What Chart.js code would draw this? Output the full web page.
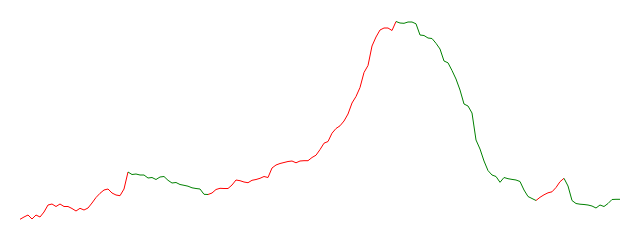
<!DOCTYPE html>
<html>
<head>
<meta charset="utf-8">
<script src="https://cdn.jsdelivr.net/npm/chart.js@4/dist/chart.umd.min.js"></script>
<style>
  html, body { margin: 0; padding: 0; background: #fff; }
  #wrap { width: 640px; height: 240px; }
</style>
</head>
<body>
<div id="wrap"><canvas id="kurs"></canvas></div>
<script>
// Verdier lest av bildet, ett punkt per steg
const verdier = [
  0.7, 3, 5, 1, 5, 3, 8, 15, 16, 13.5,
  16, 13.5, 13.5, 11.5, 9, 11.7, 10, 12, 17, 22.5,
  26.7, 30, 31, 27, 25, 24.3, 31, 48, 45.5, 46,
  45, 45, 42, 42.5, 40.5, 43, 43.5, 39.7, 37, 37.5,
  35.5, 34.7, 33.8, 32.2, 31.5, 31, 25.7, 25.5, 27, 30.5,
  31.7, 31.5, 31.5, 35, 40, 39.3, 38, 37.3, 39.7, 40.5,
  41.7, 43.5, 42.5, 52, 55, 56.5, 57.5, 58.5, 59, 57.2,
  59, 59.3, 59.3, 62.5, 64.8, 70.4, 76.8, 78.5, 86.8, 91.5,
  94.2, 99, 106, 117, 123.5, 132.5, 147.5, 154.5, 174, 183,
  190, 192, 192, 189.5, 198.5, 197, 196.7, 198, 198, 196.2,
  185, 184.5, 182, 181.5, 176.7, 171, 159, 157.2, 149.5, 141,
  130, 116, 114, 107, 80, 71, 59, 49.4, 45, 43.5,
  37.7, 42.5, 41.3, 40.6, 40, 38.5, 30, 23.5, 21.5, 19.5,
  22.7, 25.2, 27.2, 28.2, 32.5, 38.3, 41.7, 34, 19.5, 16.5,
  15.8, 15.5, 15, 14, 12, 15, 13.5, 16.5, 20.5, 20.7,
  20.7
];

// Indekser der trenden snur (første stykke går opp)
const vendepunkter = [0, 27, 47, 94, 129, 136, 150];

const etiketter = verdier.map((v, i) => i + 1);

function erOppgang(indeks) {
  for (let k = 0; k < vendepunkter.length - 1; k++) {
    if (indeks >= vendepunkter[k] && indeks < vendepunkter[k + 1]) {
      return k % 2 === 0;
    }
  }
  return false;
}

new Chart(document.getElementById("kurs"), {
  type: 'line',
  data: {
    labels: etiketter,
    datasets: [{
      data: verdier,
      borderWidth: 1,
      borderColor: "#ff0000",
      pointRadius: 0,
      tension: 0,
      fill: false,
      segment: {
        borderColor: ctx => erOppgang(ctx.p0DataIndex) ? "#ff0000" : "#008000"
      }
    }]
  },
  options: {
    responsive: true,
    maintainAspectRatio: false,
    animation: false,
    layout: { padding: { left: 20, right: 20, top: 20, bottom: 20 } },
    scales: {
      x: { display: false },
      y: { display: false, min: 0, max: 200 }
    },
    plugins: {
      legend: { display: false },
      tooltip: { enabled: false }
    }
  }
});
</script>
</body>
</html>
